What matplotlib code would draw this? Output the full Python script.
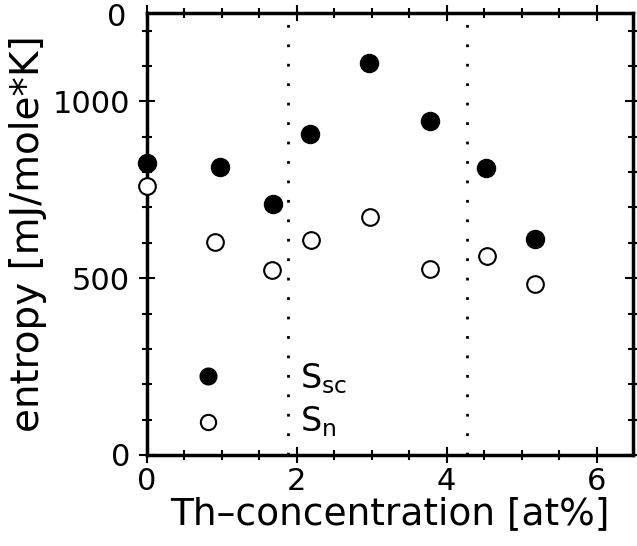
import numpy as np
import matplotlib.pyplot as plt
from matplotlib.ticker import MultipleLocator

# Th-concentration [at%]
conc_sc = [0.0, 0.98, 1.68, 2.18, 2.97, 3.78, 4.53, 5.18]
conc_n = [0.0, 0.91, 1.67, 2.19, 2.98, 3.78, 4.54, 5.18]

# entropy [mJ/mole*K]
s_sc = [826, 815, 710, 908, 1109, 945, 812, 611]
s_n = [761, 603, 524, 608, 674, 526, 563, 484]

# phase boundaries
boundaries = [1.89, 4.27]

plt.rcParams['font.family'] = 'DejaVu Sans'

fig = plt.figure(figsize=(6.37, 5.46), dpi=100)
ax = fig.add_axes([0.2303, 0.1667, 0.7629, 0.8095])

ax.plot(conc_sc, s_sc, 'o', color='black', ms=13, clip_on=False, zorder=3)
ax.plot(conc_n, s_n, 'o', mfc='white', mec='black', mew=1.5, ms=12, clip_on=False, zorder=3)

for b in boundaries:
    ax.axvline(b, color='black', lw=2, ls=(0, (1, 6)))

# key
ax.plot([0.82], [224], 'o', color='black', ms=12)
ax.plot([0.82], [93], 'o', mfc='white', mec='black', mew=1.5, ms=11)
ax.text(2.05, 215, r'S$_{\mathrm{sc}}$', fontsize=24, va='center', ha='left')
ax.text(2.05, 95, r'S$_{\mathrm{n}}$', fontsize=24, va='center', ha='left')

ax.set_xlim(0, 6.48)
ax.set_ylim(0, 1250)
ax.xaxis.set_major_locator(MultipleLocator(2))
ax.xaxis.set_minor_locator(MultipleLocator(0.5))
ax.yaxis.set_major_locator(MultipleLocator(500))
ax.yaxis.set_minor_locator(MultipleLocator(100))

for sp in ax.spines.values():
    sp.set_linewidth(2.5)
ax.tick_params(which='both', direction='inout', top=True, right=True, width=1.5,
               labelsize=22)
ax.tick_params(which='major', length=12)
ax.tick_params(which='minor', length=7)
ax.tick_params(axis='y', pad=6)
ax.tick_params(axis='x', pad=3)

ax.text(-0.27, 1238, '0', fontsize=22, ha='right', va='center')

ax.set_xlabel('Th\u2013concentration [at%]', fontsize=27, labelpad=0)
ax.set_ylabel('entropy [mJ/mole*K]', fontsize=28, labelpad=4)

fig.savefig('out.png', dpi=100)
